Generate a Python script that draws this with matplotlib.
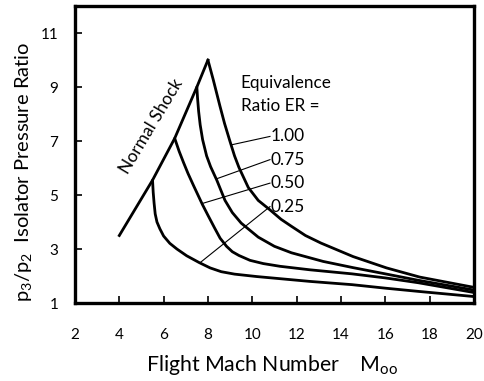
import numpy as np
import matplotlib
matplotlib.use('Agg')
import matplotlib.pyplot as plt

plt.rcParams['font.family'] = ['Lato', 'DejaVu Sans']
plt.rcParams['mathtext.fontset'] = 'custom'
plt.rcParams['mathtext.rm'] = 'Lato'
plt.rcParams['mathtext.it'] = 'Lato'

# normal shock line
shock_M = [4.0, 5.5, 6.5, 7.5, 8.0]
shock_p = [3.5, 5.55, 7.1, 9.0, 10.0]

# equivalence ratio curves
er_025_M = [5.5, 5.53, 5.57, 5.62, 5.7, 5.83, 6.0, 6.28, 6.6, 7.04, 7.6, 8.1, 8.6, 9.2, 10.2, 12.6, 14.5, 16.0, 17.5, 20.0]
er_025_p = [5.55, 5.1, 4.7, 4.3, 4.0, 3.75, 3.48, 3.21, 3.0, 2.75, 2.5, 2.3, 2.16, 2.07, 1.98, 1.8, 1.68, 1.55, 1.43, 1.24]

er_050_M = [6.5, 6.7, 6.9, 7.1, 7.35, 7.75, 8.0, 8.3, 8.55, 8.84, 9.1, 9.4, 9.9, 10.5, 11.25, 12.6, 14.5, 16.0, 17.5, 20.0]
er_050_p = [7.1, 6.62, 6.2, 5.8, 5.35, 4.65, 4.25, 3.78, 3.4, 3.1, 2.9, 2.76, 2.58, 2.46, 2.36, 2.23, 2.08, 1.93, 1.75, 1.39]

er_075_M = [7.5, 7.53, 7.58, 7.65, 7.76, 7.94, 8.12, 8.4, 8.77, 9.1, 9.5, 10.27, 11.0, 11.77, 13.2, 14.55, 16.0, 17.5, 20.0]
er_075_p = [9.0, 8.6, 8.1, 7.6, 7.05, 6.45, 6.05, 5.55, 4.8, 4.35, 3.96, 3.44, 3.1, 2.86, 2.54, 2.31, 2.08, 1.84, 1.48]

er_100_M = [8.0, 8.24, 8.54, 8.75, 8.99, 9.2, 9.4, 9.82, 10.27, 10.8, 11.3, 11.77, 12.4, 13.1, 14.55, 16.06, 17.56, 20.0]
er_100_p = [10.0, 9.27, 8.3, 7.65, 7.0, 6.45, 6.02, 5.28, 4.8, 4.45, 4.1, 3.84, 3.5, 3.22, 2.72, 2.3, 1.96, 1.58]

er_labels = ['1.00', '0.75', '0.50', '0.25']
# leader lines: start on the curve, end at the label
leader_start = [(9.07, 6.86), (8.39, 5.6), (7.72, 4.68), (7.64, 2.49)]
leader_end = [(10.8, 7.17), (10.8, 6.31), (10.8, 5.44), (10.8, 4.57)]

fig = plt.figure(figsize=(4.85, 3.81), dpi=100)
ax = fig.add_axes([0.1546, 0.2047, 0.8224, 0.7795])

lw = 2.0
ax.plot(shock_M, shock_p, color='black', lw=lw, solid_joinstyle='round')
for M, p in [(er_025_M, er_025_p), (er_050_M, er_050_p),
             (er_075_M, er_075_p), (er_100_M, er_100_p)]:
    ax.plot(M, p, color='black', lw=lw, solid_joinstyle='round', solid_capstyle='round')

for lab, s, e in zip(er_labels, leader_start, leader_end):
    ax.plot([s[0], e[0]], [s[1], e[1]], color='black', lw=0.8)
    ax.text(e[0] + 0.02, e[1], lab, fontsize=12.5, va='center', ha='left')

ax.text(9.47, 9.15, 'Equivalence', fontsize=12.3, va='center', ha='left')
ax.text(9.47, 8.31, 'Ratio ER =', fontsize=12.3, va='center', ha='left')
ax.text(5.45, 7.55, 'Normal Shock', fontsize=12.5, rotation=59,
        va='center', ha='center', rotation_mode='anchor')

ax.set_xlim(2, 20)
ax.set_ylim(1, 12)
ax.set_xticks(np.arange(2, 21, 2))
ax.set_yticks(np.arange(1, 12, 2))
ax.tick_params(direction='in', length=5, width=1.2, labelsize=11)
ax.tick_params(axis='x', pad=18)
ax.tick_params(axis='y', pad=12)
for sp in ax.spines.values():
    sp.set_linewidth(2.4)

fig.text(0.048, 1 - 172 / 381, r'p$_3$/p$_2$  Isolator Pressure Ratio',
         rotation=90, fontsize=14.5, va='center', ha='center')
fig.text(272 / 485, 1 - 365 / 381, r'Flight Mach Number    M$_{\mathregular{oo}}$',
         fontsize=15.3, va='center', ha='center')

fig.savefig('out.png', dpi=100)
